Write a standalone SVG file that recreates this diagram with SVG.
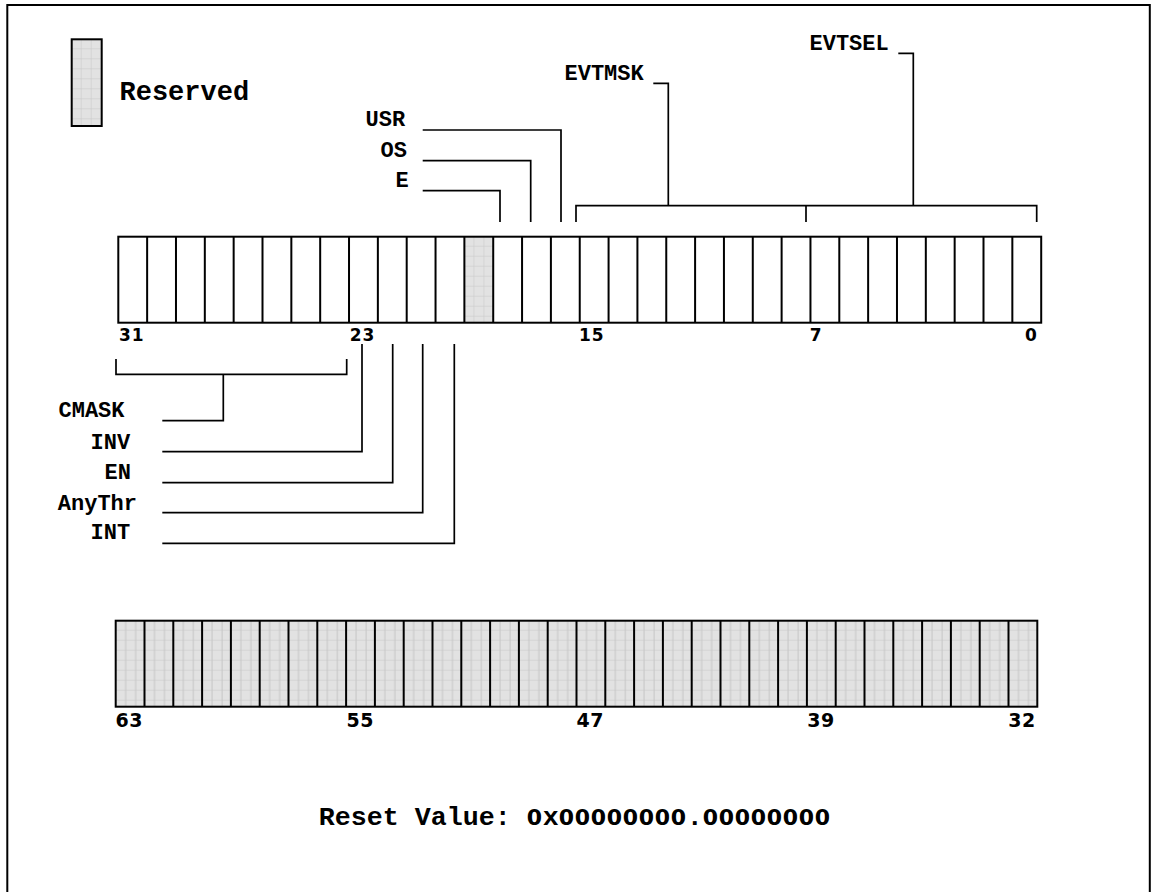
<svg xmlns="http://www.w3.org/2000/svg" width="1154" height="892" viewBox="0 0 1154 892">
<style>
.frame{fill:none;stroke:#000;stroke-width:2}
.reg{fill:none;stroke:#000;stroke-width:2}
.cellw{fill:#fff}
.lead{fill:none;stroke:#000;stroke-width:1.7}
.lbl{font-family:"Liberation Mono","Courier New",monospace;font-weight:bold;font-size:22px;fill:#000}
.big{font-family:"Liberation Mono","Courier New",monospace;font-weight:bold;fill:#000}
.num{font-family:"DejaVu Sans",Verdana,sans-serif;font-weight:bold;fill:#000}
.dg{font-family:"DejaVu Sans",Verdana,sans-serif;font-weight:bold;font-size:22px}
</style>
<defs>
<pattern id="pLeg" patternUnits="userSpaceOnUse" x="71.7" y="39.3" width="10" height="10">
<rect width="10" height="10" fill="#e2e2e2"/>
<path d="M10,0V10M0,10H10" stroke="#c6c6c6" stroke-width="1"/>
</pattern>
<pattern id="pTop" patternUnits="userSpaceOnUse" x="464.4" y="236.7" width="10" height="10">
<rect width="10" height="10" fill="#e2e2e2"/>
<path d="M10,0V10M0,10H10" stroke="#c6c6c6" stroke-width="1"/>
</pattern>
<pattern id="pBot" patternUnits="userSpaceOnUse" x="115.7" y="620.7" width="28.8" height="10">
<rect width="28.8" height="10" fill="#e2e2e2"/>
<path d="M10,0V10M20,0V10M0,10H28.8" stroke="#c6c6c6" stroke-width="1"/>
</pattern>
</defs>
<rect width="1154" height="892" fill="#fff"/>
<rect class="frame" x="7.3" y="5" width="1142.5" height="900"/>

<g id="legend">
<rect x="71.7" y="39.3" width="30" height="86.7" fill="url(#pLeg)" stroke="#000" stroke-width="2"/>
<text class="big" x="119.5" y="100" font-size="27">Reserved</text>
</g>

<g id="register-low">
<rect class="cellw" x="118.3" y="236.7" width="922.9" height="86"/>
<rect x="464.38" y="236.7" width="28.84" height="86" fill="url(#pTop)"/>
<rect class="reg" x="118.3" y="236.7" width="922.9" height="86"/>
<path class="reg" d="M147.14,236.7V322.7M175.98,236.7V322.7M204.82,236.7V322.7M233.66,236.7V322.7M262.5,236.7V322.7M291.34,236.7V322.7M320.18,236.7V322.7M349.02,236.7V322.7M377.86,236.7V322.7M406.7,236.7V322.7M435.54,236.7V322.7M464.38,236.7V322.7M493.22,236.7V322.7M522.06,236.7V322.7M550.9,236.7V322.7M579.74,236.7V322.7M608.58,236.7V322.7M637.42,236.7V322.7M666.26,236.7V322.7M695.1,236.7V322.7M723.94,236.7V322.7M752.78,236.7V322.7M781.62,236.7V322.7M810.46,236.7V322.7M839.3,236.7V322.7M868.14,236.7V322.7M896.98,236.7V322.7M925.82,236.7V322.7M954.66,236.7V322.7M983.5,236.7V322.7M1012.34,236.7V322.7"/>
<g class="num" font-size="17" letter-spacing="1">
<text x="119" y="341">31</text>
<text x="349.7" y="341">23</text>
<text x="579" y="341">15</text>
<text x="809.7" y="341">7</text>
<text x="1025" y="341">0</text>
</g>
</g>

<g id="register-high">
<rect x="115.7" y="620.7" width="921.6" height="86" fill="url(#pBot)"/>
<rect class="reg" x="115.7" y="620.7" width="921.6" height="86"/>
<path class="reg" d="M144.5,620.7V706.7M173.3,620.7V706.7M202.1,620.7V706.7M230.9,620.7V706.7M259.7,620.7V706.7M288.5,620.7V706.7M317.3,620.7V706.7M346.1,620.7V706.7M374.9,620.7V706.7M403.7,620.7V706.7M432.5,620.7V706.7M461.3,620.7V706.7M490.1,620.7V706.7M518.9,620.7V706.7M547.7,620.7V706.7M576.5,620.7V706.7M605.3,620.7V706.7M634.1,620.7V706.7M662.9,620.7V706.7M691.7,620.7V706.7M720.5,620.7V706.7M749.3,620.7V706.7M778.1,620.7V706.7M806.9,620.7V706.7M835.7,620.7V706.7M864.5,620.7V706.7M893.3,620.7V706.7M922.1,620.7V706.7M950.9,620.7V706.7M979.7,620.7V706.7M1008.5,620.7V706.7"/>
<g class="num" font-size="19" letter-spacing="0.5">
<text x="115.5" y="726.5">63</text>
<text x="346.5" y="726.5">55</text>
<text x="576.5" y="726.5">47</text>
<text x="807.2" y="726.5">39</text>
<text x="1008.2" y="726.5">32</text>
</g>
</g>

<g id="field-evtsel"><text class="lbl" x="809.5" y="49.5">EVTSEL</text></g>
<g id="field-evtmsk"><text class="lbl" x="564.5" y="80">EVTMSK</text></g>
<g id="field-usr"><text class="lbl" x="365.5" y="126">USR</text></g>
<g id="field-os"><text class="lbl" x="380.5" y="156.7">OS</text></g>
<g id="field-e"><text class="lbl" x="395.5" y="187.3">E</text></g>
<g id="field-cmask"><text class="lbl" x="58.5" y="417.3">CMASK</text></g>
<g id="field-inv"><text class="lbl" x="90.5" y="449">INV</text></g>
<g id="field-en"><text class="lbl" x="104.5" y="479.3">EN</text></g>
<g id="field-anythr"><text class="lbl" x="57.8" y="510">AnyThr</text></g>
<g id="field-int"><text class="lbl" x="90.5" y="539.3">INT</text></g>

<g id="connectors">
<path class="lead" d="M422.7,190.7H500V222"/>
<path class="lead" d="M422.7,160.7H530.7V222"/>
<path class="lead" d="M422.7,130H561V222"/>
<path class="lead" d="M653.3,83.3H668.3V205.7"/>
<path class="lead" d="M898.3,53.3H913.3V205.7"/>
<path class="lead" d="M576,222V205.7H1036.7V222M806,205.7V222"/>
<path class="lead" d="M116,359V374.3H346.7V359M223.3,374.3V420.7H162.3"/>
<path class="lead" d="M362,344V451.7H162.3"/>
<path class="lead" d="M392.7,344V482.7H162.3"/>
<path class="lead" d="M422.7,344V512.7H162.3"/>
<path class="lead" d="M454.3,344V543.3H162.3"/>
</g>

<g id="reset-value">
<text class="big" font-size="26.67" y="825" x="318.8 334.8 350.8 366.8 382.8 398.8 414.8 430.8 446.8 462.8 478.8 494.8 510.8 526.8 542.8 558.8 574.8 590.8 606.8 622.8 638.8 654.8 670.8 686.8 702.8 718.8 734.8 750.8 766.8 782.8 798.8 814.8">Reset Value: <tspan class="dg">0</tspan>x<tspan class="dg">00000000</tspan>.<tspan class="dg">00000000</tspan></text>
</g>
</svg>
